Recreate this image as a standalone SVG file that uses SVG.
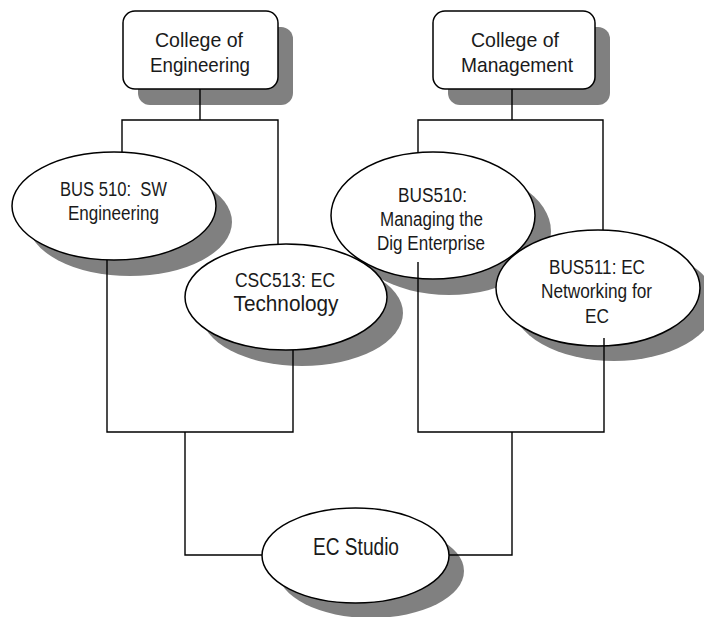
<svg xmlns="http://www.w3.org/2000/svg" width="704" height="617" viewBox="0 0 704 617">
<style>
.sh{fill:#808080;stroke:none}
.nd{fill:#fff;stroke:#000;stroke-width:1.5}
.ln{fill:none;stroke:#000;stroke-width:1.4}
text{font-family:"Liberation Sans",Arial,sans-serif;fill:#1a1a1a;text-anchor:middle}
.t21{font-size:21px}
.t20{font-size:20px}
.t22{font-size:22px}
.t24{font-size:23px}
</style>
<rect width="704" height="617" fill="#fff"/>
<g id="shadows">
<rect class="sh" x="138" y="27" width="155" height="78" rx="12"/>
<rect class="sh" x="448" y="27" width="162" height="78" rx="12"/>
<ellipse class="sh" cx="449" cy="231.5" rx="102" ry="63.5"/>
<ellipse class="sh" cx="302" cy="313" rx="101" ry="53"/>
<ellipse class="sh" cx="130" cy="222" rx="102" ry="54"/>
<ellipse class="sh" cx="614" cy="303" rx="102" ry="58"/>
<ellipse class="sh" cx="371" cy="571" rx="93" ry="47"/>
</g>
<g id="college-eng">
<rect class="nd" x="123" y="11" width="155" height="78" rx="12"/>
<text class="t21" x="199" y="47" textLength="88" lengthAdjust="spacingAndGlyphs">College of</text>
<text class="t21" x="200" y="72" textLength="100" lengthAdjust="spacingAndGlyphs">Engineering</text>
</g>
<g id="college-mgmt">
<rect class="nd" x="433" y="11" width="162" height="78" rx="12"/>
<text class="t21" x="515" y="47" textLength="88" lengthAdjust="spacingAndGlyphs">College of</text>
<text class="t21" x="517" y="72" textLength="112" lengthAdjust="spacingAndGlyphs">Management</text>
</g>
<g id="bus510-managing">
<ellipse class="nd" cx="433" cy="215.5" rx="102" ry="63.5"/>
<text class="t20" x="432.5" y="202" textLength="69" lengthAdjust="spacingAndGlyphs">BUS510:</text>
<text class="t20" x="431.5" y="226" textLength="103" lengthAdjust="spacingAndGlyphs">Managing the</text>
<text class="t20" x="431" y="250" textLength="108" lengthAdjust="spacingAndGlyphs">Dig Enterprise</text>
</g>
<g id="csc513">
<ellipse class="nd" cx="286" cy="297" rx="101" ry="53"/>
<text class="t20" x="285" y="286.5" textLength="100" lengthAdjust="spacingAndGlyphs">CSC513: EC</text>
<text class="t22" x="286" y="311" textLength="105" lengthAdjust="spacingAndGlyphs">Technology</text>
</g>
<g id="bus510-sw">
<ellipse class="nd" cx="114" cy="206" rx="102" ry="54"/>
<text class="t20" x="113.5" y="196" textLength="107" lengthAdjust="spacingAndGlyphs">BUS 510:&#160; SW</text>
<text class="t20" x="113.5" y="220" textLength="91" lengthAdjust="spacingAndGlyphs">Engineering</text>
</g>
<g id="bus511">
<ellipse class="nd" cx="598" cy="288" rx="102" ry="58"/>
<text class="t20" x="597" y="274" textLength="96" lengthAdjust="spacingAndGlyphs">BUS511: EC</text>
<text class="t20" x="596.5" y="298" textLength="111" lengthAdjust="spacingAndGlyphs">Networking for</text>
<text class="t20" x="597" y="323" textLength="24" lengthAdjust="spacingAndGlyphs">EC</text>
</g>
<g id="ec-studio">
<ellipse class="nd" cx="355.5" cy="555.5" rx="93.5" ry="47.5"/>
<text class="t24" x="356" y="555" textLength="86" lengthAdjust="spacingAndGlyphs">EC Studio</text>
</g>
<g id="connectors">
<polyline class="ln" points="200,89 200,120"/>
<polyline class="ln" points="122,152 122,120 278,120 278,244"/>
<polyline class="ln" points="512,89 512,120"/>
<polyline class="ln" points="418,152 418,120 603,120 603,230"/>
<polyline class="ln" points="107,260 107,432 293,432 293,350"/>
<polyline class="ln" points="418,262 418,432 604,432 604,338"/>
<polyline class="ln" points="185,432 185,555 262,555"/>
<polyline class="ln" points="512,432 512,555 449,555"/>
</g>
</svg>
